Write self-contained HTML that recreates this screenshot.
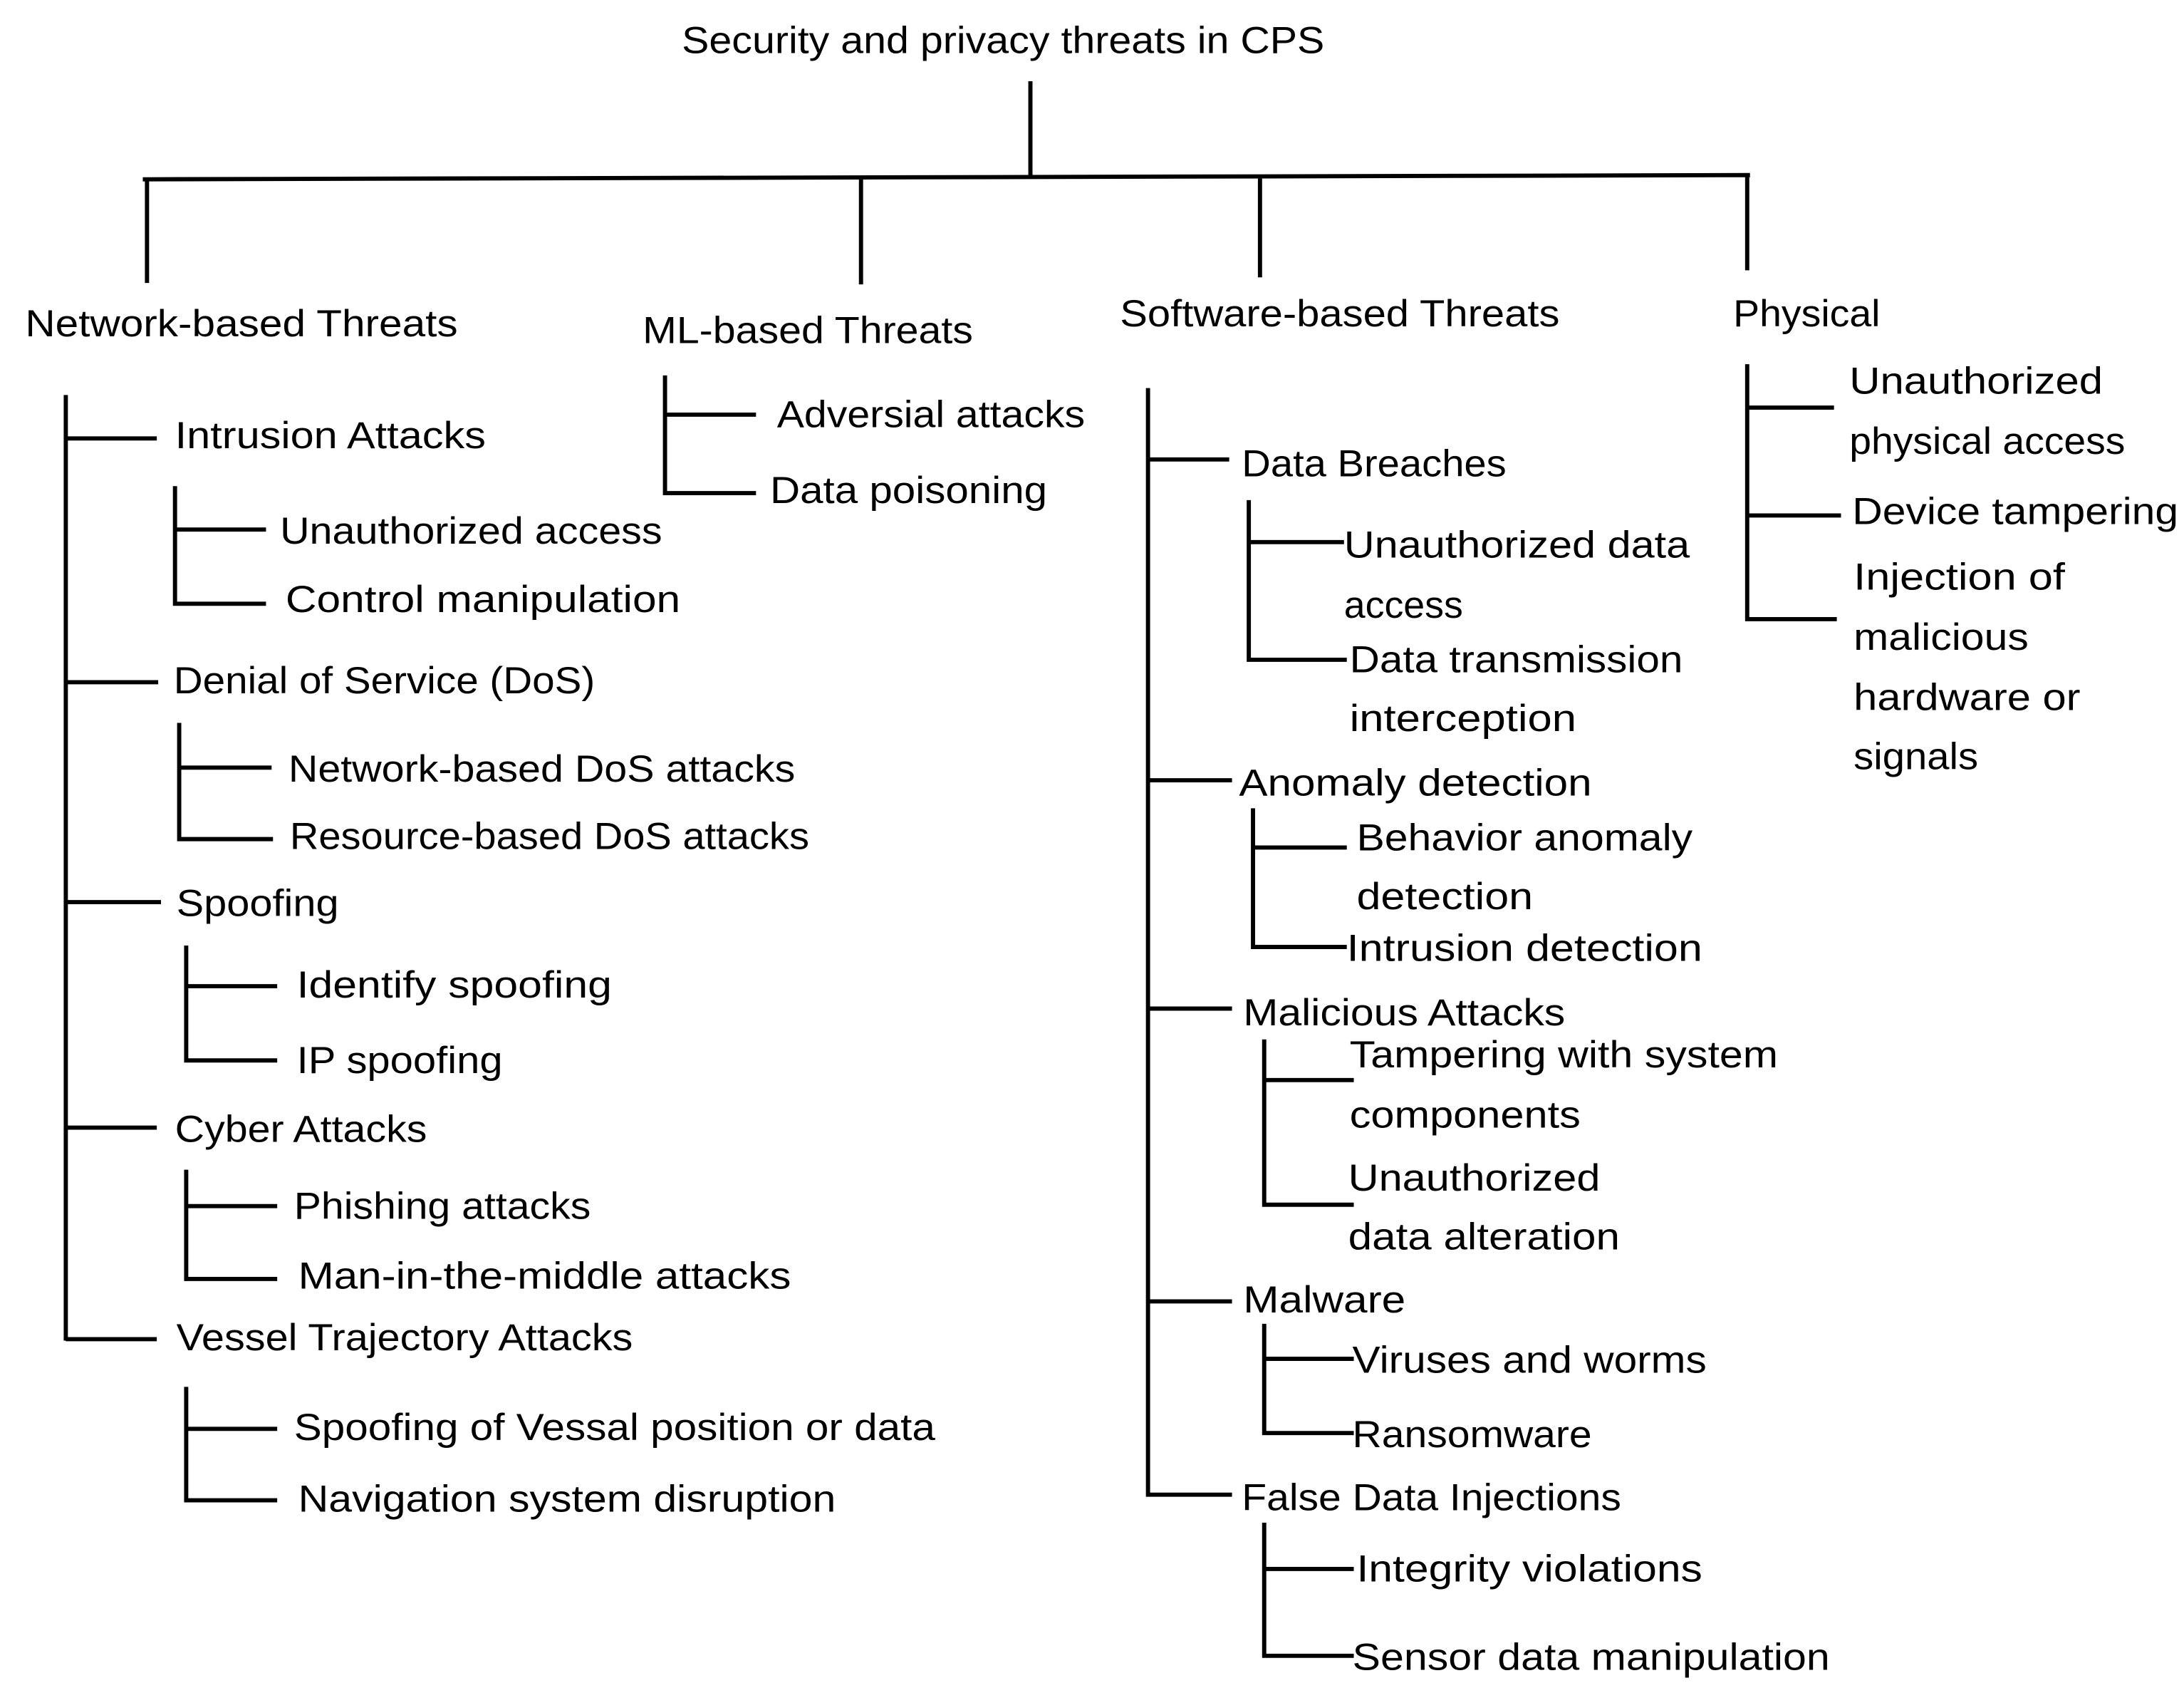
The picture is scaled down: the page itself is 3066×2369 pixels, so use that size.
<!DOCTYPE html>
<html><head><meta charset="utf-8"><style>
html,body{margin:0;padding:0;background:#fff;}
svg{display:block;}
text{font-family:"Liberation Sans",sans-serif;font-size:27px;fill:#000;}
</style></head><body>
<svg width="3066" height="2369" viewBox="0 0 1560 1205" preserveAspectRatio="none" xmlns="http://www.w3.org/2000/svg">
<g stroke="#000" stroke-width="3" fill="none">
<path d="M736 58V126M102 128L1250 125M105 128V202M615 127V203M900 126V198M1248 126V193"/>
<path d="M47 282V957M47 313H112M47 487H113M47 644H115M47 805H112M47 956H112"/>
<path d="M125 347V431H190M125 378H190"/>
<path d="M128 516V599H195M128 548H194"/>
<path d="M133 675V757H198M133 704H198"/>
<path d="M133 835V913H198M133 861H198"/>
<path d="M133 990V1071H198M133 1020H198"/>
<path d="M475 268V352H540M475 296H540"/>
<path d="M820 277V1067H880M820 328H878M820 557H880M820 720H880M820 929H880"/>
<path d="M892 357V471H962M892 387H960"/>
<path d="M895 577V676H962M895 605H962"/>
<path d="M903 742V860H967M903 771H967"/>
<path d="M903 945V1023H967M903 970H967"/>
<path d="M903 1087V1182H967M903 1120H967"/>
<path d="M1248 260V442H1312M1248 291H1310M1248 368H1315"/>
</g>
<g lengthAdjust="spacingAndGlyphs">
<text x="487" y="38" textLength="459" lengthAdjust="spacingAndGlyphs">Security and privacy threats in CPS</text>
<text x="18" y="240" textLength="309" lengthAdjust="spacingAndGlyphs">Network-based Threats</text>
<text x="459" y="245" textLength="236" lengthAdjust="spacingAndGlyphs">ML-based Threats</text>
<text x="800" y="233" textLength="314" lengthAdjust="spacingAndGlyphs">Software-based Threats</text>
<text x="1238" y="233" textLength="105" lengthAdjust="spacingAndGlyphs">Physical</text>

<text x="125" y="320" textLength="222" lengthAdjust="spacingAndGlyphs">Intrusion Attacks</text>
<text x="124" y="495" textLength="301" lengthAdjust="spacingAndGlyphs">Denial of Service (DoS)</text>
<text x="126" y="654" textLength="116" lengthAdjust="spacingAndGlyphs">Spoofing</text>
<text x="125" y="815" textLength="180" lengthAdjust="spacingAndGlyphs">Cyber Attacks</text>
<text x="126" y="964" textLength="326" lengthAdjust="spacingAndGlyphs">Vessel Trajectory Attacks</text>

<text x="200" y="388" textLength="273" lengthAdjust="spacingAndGlyphs">Unauthorized access</text>
<text x="204" y="437" textLength="282" lengthAdjust="spacingAndGlyphs">Control manipulation</text>
<text x="206" y="558" textLength="362" lengthAdjust="spacingAndGlyphs">Network-based DoS attacks</text>
<text x="207" y="606" textLength="371" lengthAdjust="spacingAndGlyphs">Resource-based DoS attacks</text>
<text x="212" y="712" textLength="225" lengthAdjust="spacingAndGlyphs">Identify spoofing</text>
<text x="212" y="766" textLength="147" lengthAdjust="spacingAndGlyphs">IP spoofing</text>
<text x="210" y="870" textLength="212" lengthAdjust="spacingAndGlyphs">Phishing attacks</text>
<text x="213" y="920" textLength="352" lengthAdjust="spacingAndGlyphs">Man-in-the-middle attacks</text>
<text x="210" y="1028" textLength="458" lengthAdjust="spacingAndGlyphs">Spoofing of Vessal position or data</text>
<text x="213" y="1079" textLength="384" lengthAdjust="spacingAndGlyphs">Navigation system disruption</text>

<text x="555" y="305" textLength="220" lengthAdjust="spacingAndGlyphs">Adversial attacks</text>
<text x="550" y="359" textLength="198" lengthAdjust="spacingAndGlyphs">Data poisoning</text>

<text x="887" y="340" textLength="189" lengthAdjust="spacingAndGlyphs">Data Breaches</text>
<text x="885" y="568" textLength="252" lengthAdjust="spacingAndGlyphs">Anomaly detection</text>
<text x="888" y="732" textLength="230" lengthAdjust="spacingAndGlyphs">Malicious Attacks</text>
<text x="888" y="937" textLength="116" lengthAdjust="spacingAndGlyphs">Malware</text>
<text x="887" y="1078" textLength="271" lengthAdjust="spacingAndGlyphs">False Data Injections</text>

<text x="960" y="398" textLength="247" lengthAdjust="spacingAndGlyphs">Unauthorized data</text>
<text x="960" y="441" textLength="85" lengthAdjust="spacingAndGlyphs">access</text>
<text x="964" y="480" textLength="238" lengthAdjust="spacingAndGlyphs">Data transmission</text>
<text x="964" y="522" textLength="162" lengthAdjust="spacingAndGlyphs">interception</text>
<text x="969" y="607" textLength="240" lengthAdjust="spacingAndGlyphs">Behavior anomaly</text>
<text x="969" y="649" textLength="126" lengthAdjust="spacingAndGlyphs">detection</text>
<text x="962" y="686" textLength="254" lengthAdjust="spacingAndGlyphs">Intrusion detection</text>
<text x="964" y="762" textLength="306" lengthAdjust="spacingAndGlyphs">Tampering with system</text>
<text x="964" y="805" textLength="165" lengthAdjust="spacingAndGlyphs">components</text>
<text x="963" y="850" textLength="180" lengthAdjust="spacingAndGlyphs">Unauthorized</text>
<text x="963" y="892" textLength="194" lengthAdjust="spacingAndGlyphs">data alteration</text>
<text x="966" y="980" textLength="253" lengthAdjust="spacingAndGlyphs">Viruses and worms</text>
<text x="966" y="1033" textLength="171" lengthAdjust="spacingAndGlyphs">Ransomware</text>
<text x="969" y="1129" textLength="247" lengthAdjust="spacingAndGlyphs">Integrity violations</text>
<text x="966" y="1192" textLength="341" lengthAdjust="spacingAndGlyphs">Sensor data manipulation</text>

<text x="1321" y="281" textLength="181" lengthAdjust="spacingAndGlyphs">Unauthorized</text>
<text x="1321" y="324" textLength="197" lengthAdjust="spacingAndGlyphs">physical access</text>
<text x="1323" y="374" textLength="233" lengthAdjust="spacingAndGlyphs">Device tampering</text>
<text x="1324" y="421" textLength="151" lengthAdjust="spacingAndGlyphs">Injection of</text>
<text x="1324" y="464" textLength="125" lengthAdjust="spacingAndGlyphs">malicious</text>
<text x="1324" y="507" textLength="162" lengthAdjust="spacingAndGlyphs">hardware or</text>
<text x="1324" y="549" textLength="89" lengthAdjust="spacingAndGlyphs">signals</text>
</g>
</svg>
</body></html>
